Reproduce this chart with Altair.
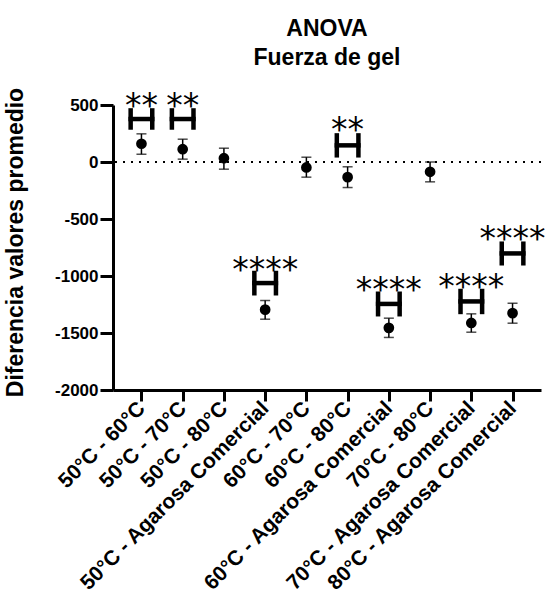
import altair as alt
import pandas as pd

comparisons = ["50°C - 60°C", "50°C - 70°C", "50°C - 80°C", "50°C - Agarosa Comercial",
               "60°C - 70°C", "60°C - 80°C", "60°C - Agarosa Comercial", "70°C - 80°C",
               "70°C - Agarosa Comercial", "80°C - Agarosa Comercial"]
mean_diff = [160, 112, 33, -1295, -48, -133, -1455, -86, -1412, -1326]
err_low = [68, 25, -63, -1379, -133, -224, -1539, -174, -1493, -1414]
err_high = [247, 200, 121, -1215, 42, -42, -1370, 0, -1332, -1239]

sig_comparisons = ["50°C - 60°C", "50°C - 70°C", "50°C - Agarosa Comercial", "60°C - 80°C",
                   "60°C - Agarosa Comercial", "70°C - Agarosa Comercial", "80°C - Agarosa Comercial"]
sig_labels = ["**", "**", "****", "**", "****", "****", "****"]
bracket_top = [472, 472, -954, 253, -1136, -1112, -697]
bracket_mid = [377, 377, -1062, 146, -1245, -1223, -802]
bracket_bottom = [283, 283, -1171, 39, -1355, -1335, -908]
star_y = [550, 550, -890, 338, -1063, -1039, -610]

y_ticks = [-2000, -1500, -1000, -500, 0, 500]

df = pd.DataFrame({"comp": comparisons, "mean": mean_diff, "lo": err_low, "hi": err_high})
sig = pd.DataFrame({"comp": sig_comparisons, "lab": sig_labels, "top": bracket_top,
                    "mid": bracket_mid, "bot": bracket_bottom, "sy": star_y})
zero = pd.DataFrame({"z": [0]})

FONT = "Liberation Sans"

x_enc = alt.X("comp:N", sort=comparisons,
              scale=alt.Scale(type="point", padding=0.69),
              axis=alt.Axis(title=None, labelAngle=-45, labelAlign="right", labelBaseline="middle",
                            labelFontSize=21, labelFontWeight="bold", labelFont=FONT,
                            labelColor="black", labelLimit=0, tickSize=11, tickWidth=3,
                            tickColor="black", domainWidth=3, domainColor="black",
                            labelPadding=4, grid=False))
y_scale = alt.Scale(domain=[-2000, 500], nice=False, zero=False)
y_axis = alt.Axis(title="Diferencia valores promedio", values=y_ticks, grid=False,
                  labelExpr="'' + datum.value",
                  labelFontSize=17, labelFontWeight="bold", labelFont=FONT, labelColor="black",
                  tickSize=13, tickWidth=3, tickColor="black", domainWidth=3, domainColor="black",
                  labelPadding=2, titleFontSize=23, titleFontWeight="bold", titleFont=FONT,
                  titleColor="black", titleX=-98, titleY=137, titleBaseline="middle",
                  titleAlign="center", titleAngle=270)

base = alt.Chart(df)

zero_line = alt.Chart(zero).mark_rule(color="black", strokeWidth=2, strokeDash=[2, 6]).encode(
    y=alt.Y("z:Q", scale=y_scale, axis=y_axis))

err = base.mark_rule(color="black", strokeWidth=1.5).encode(
    x=x_enc, y=alt.Y("lo:Q", scale=y_scale), y2="hi:Q")
cap_lo = base.mark_tick(color="black", orient="horizontal", size=10, thickness=1.5).encode(
    x=x_enc, y=alt.Y("lo:Q", scale=y_scale))
cap_hi = base.mark_tick(color="black", orient="horizontal", size=10, thickness=1.5).encode(
    x=x_enc, y=alt.Y("hi:Q", scale=y_scale))
dots = base.mark_circle(color="black", opacity=1, size=115).encode(
    x=x_enc, y=alt.Y("mean:Q", scale=y_scale))

sbase = alt.Chart(sig)
h_left = sbase.mark_rule(color="black", strokeWidth=4.5, xOffset=-10.8).encode(
    x=x_enc, y=alt.Y("top:Q", scale=y_scale), y2="bot:Q")
h_right = sbase.mark_rule(color="black", strokeWidth=4.5, xOffset=10.8).encode(
    x=x_enc, y=alt.Y("top:Q", scale=y_scale), y2="bot:Q")
h_mid = sbase.mark_rule(color="black", strokeWidth=4.5, xOffset=-13, x2Offset=13).encode(
    x=x_enc, x2="comp:N", y=alt.Y("mid:Q", scale=y_scale))
stars = sbase.mark_text(color="black", fontSize=33, font="DejaVu Sans", baseline="alphabetic",
                        dy=18).encode(
    x=x_enc, y=alt.Y("sy:Q", scale=y_scale), text="lab:N")

chart = alt.layer(zero_line, err, cap_lo, cap_hi, dots, h_left, h_right, h_mid, stars).properties(
    width=428, height=285,
    title=alt.TitleParams(["ANOVA", "Fuerza de gel"], fontSize=23, fontWeight="bold", font=FONT,
                          color="black", anchor="middle", offset=17, lineHeight=29),
    autosize=alt.AutoSizeParams(type="none"),
    padding={"left": 113, "top": 105, "right": 8, "bottom": 217},
    background="white",
).configure_view(stroke=None)

chart.save("out.html", embed_options={"renderer": "svg", "actions": False})
